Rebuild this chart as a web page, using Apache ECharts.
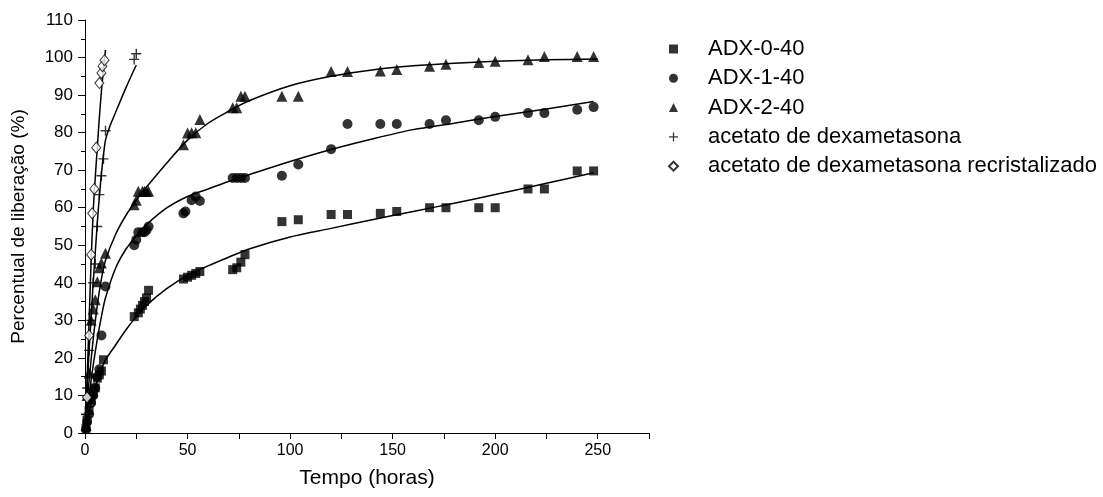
<!DOCTYPE html>
<html>
<head>
<meta charset="utf-8">
<script src="https://cdn.jsdelivr.net/npm/echarts@6/dist/echarts.min.js"></script>
<style>html,body{margin:0;padding:0;background:#fff}#c{width:1103px;height:497px}</style>
</head>
<body>
<div id="c"></div>
<script>
// ---- data ----
const xTicks = [0, 50, 100, 150, 200, 250];
const seriesNames = ['ADX-0-40', 'ADX-1-40', 'ADX-2-40', 'acetato de dexametasona', 'acetato de dexametasona recristalizado'];

const adx0T = [0.5, 1, 2, 3, 4, 5, 6, 7, 8, 9, 24, 26, 27, 28, 29, 30, 31, 48, 50, 52, 54, 56, 72, 74, 76, 78, 96, 104, 120, 128, 144, 152, 168, 176, 192, 200, 216, 224, 240, 248];
const adx0V = [1.3, 3.5, 6, 8.8, 10.5, 12, 14.6, 15.5, 16.5, 19.5, 31, 32, 33, 34, 35, 36, 38, 41, 41.5, 42, 42.5, 43, 43.5, 44, 45.5, 47.5, 56.3, 56.8, 58.2, 58.2, 58.5, 59, 60, 60, 60, 60, 65, 65, 69.8, 69.8];

const adx1T = [0.5, 1, 2, 3, 4, 5, 6, 7, 8, 10, 24, 25, 26, 28, 29, 30, 31, 48, 49, 52, 54, 56, 72, 74, 76, 78, 96, 104, 120, 128, 144, 152, 168, 176, 192, 200, 216, 224, 240, 248];
const adx1V = [1, 3, 5, 8, 10, 12, 15, 17, 26, 39, 50, 51.5, 53.5, 53.5, 53.5, 54, 55, 58.5, 59, 62, 63, 61.8, 67.9, 67.9, 67.9, 67.9, 68.5, 71.5, 75.6, 82.3, 82.3, 82.3, 82.3, 83.3, 83.3, 84.2, 85.2, 85.2, 86.1, 86.8];

const adx2T = [0.5, 1, 2, 3, 4, 5, 6, 7, 8, 10, 24, 25, 26, 28, 29, 30, 31, 48, 50, 52, 54, 56, 72, 74, 76, 78, 96, 104, 120, 128, 144, 152, 168, 176, 192, 200, 216, 224, 240, 248];
const adx2V = [2, 10, 16, 30, 33, 35.5, 40.3, 44, 45.3, 47.9, 60.8, 62, 64.4, 64.4, 64.4, 64.4, 64.4, 76.8, 79.9, 80, 80, 83.5, 86.6, 86.6, 89.7, 89.7, 89.7, 89.7, 96.3, 96.3, 96.4, 96.8, 97.7, 98.2, 98.7, 99, 99.4, 100.3, 100.3, 100.3];

const acetT = [0.5, 1, 2, 3, 4, 5, 6, 7, 8, 9, 10, 24, 25];
const acetV = [5, 12, 22, 30, 40, 45, 55, 63.5, 68.5, 73, 80.5, 99.5, 101];

const recrT = [1, 2, 3, 3.5, 4.5, 5.5, 7, 8, 8.5, 9.5];
const recrV = [9.5, 26, 47.5, 58.5, 65, 76, 93.2, 95.9, 97.7, 99.3];

// fitted curves
const fit0T = [0, 1, 2, 4, 6, 8, 10, 15, 20, 25, 30, 40, 50, 60, 70, 80, 100, 120, 140, 160, 180, 200, 225, 248];
const fit0V = [0, 3, 6, 10, 14, 17, 19.5, 23.5, 27.5, 31, 34, 38.5, 42, 44.5, 46.8, 49, 52.2, 54.5, 56.8, 59, 61.2, 63.5, 66.5, 69.3];

const fit1T = [0, 2, 4, 6, 8, 10, 15, 20, 25, 30, 40, 50, 60, 70, 80, 100, 120, 140, 160, 180, 200, 225, 248];
const fit1V = [0, 10, 18, 25, 31, 36, 44, 49, 52.5, 55.5, 60, 63, 65, 67, 68.8, 72.3, 75.5, 78.3, 80.8, 82.5, 84.3, 86.3, 88.3];

const fit2T = [0, 1, 2, 4, 6, 8, 10, 15, 20, 25, 30, 40, 50, 60, 70, 80, 100, 120, 140, 160, 180, 200, 225, 250];
const fit2V = [0, 8, 14, 25, 34, 41, 46, 53, 58, 62, 65.5, 72, 78, 82.5, 85.7, 88.5, 92.5, 95, 96.7, 97.8, 98.5, 99, 99.4, 99.6];

const fitAT = [0, 1, 2, 3, 4, 5, 6, 7, 8, 9, 10, 12, 15, 20, 25];
const fitAV = [0, 12, 22, 31, 40, 48, 56, 63, 69, 74, 78, 81.5, 85.5, 92, 98];

const fitRT = [0, 1, 2, 3, 4, 5, 6, 7, 8, 9, 10];
const fitRV = [0, 14, 30, 46, 59, 68, 76, 84, 91, 97, 102];

// ---- build ----
const pairs = (t, v) => t.map((x, i) => [x, v[i]]);
const FONT = 'Liberation Sans, Arial, Helvetica, sans-serif';
const plusPath = 'path://M4.3,0H5.7V4.3H10V5.7H5.7V10H4.3V5.7H0V4.3H4.3Z';

function scatter(name, t, v, symbol, size, style) {
  return {
    name, type: 'scatter', data: pairs(t, v), symbol, symbolSize: size,
    itemStyle: style || { color: '#000' }, z: 3, silent: true
  };
}
function fit(t, v) {
  return {
    type: 'line', data: pairs(t, v), smooth: 0.3, showSymbol: false, symbol: 'none',
    lineStyle: { color: '#000', width: 1.5 }, z: 2, silent: true
  };
}

const chart = echarts.init(document.getElementById('c'), null, { renderer: 'canvas' });
chart.setOption({
  animation: false,
  backgroundColor: '#fff',
  textStyle: { fontFamily: FONT },
  grid: { left: 85, top: 20, right: 454, bottom: 64, containLabel: false },
  legend: {
    orient: 'vertical', left: 663, top: 33, itemWidth: 9, itemHeight: 9, itemGap: 7.3,
    data: seriesNames,
    textStyle: { fontFamily: FONT, fontSize: 22, color: '#000', lineHeight: 22, padding: [0, 0, 0, 25] },
    selectedMode: false
  },
  xAxis: {
    type: 'value', min: 0, max: 275, interval: 25,
    name: 'Tempo (horas)', nameLocation: 'middle', nameGap: 35,
    nameTextStyle: { fontFamily: FONT, fontSize: 21, color: '#000' },
    axisLine: { lineStyle: { color: '#000', width: 1 } },
    axisTick: { show: true, inside: false, length: 6, lineStyle: { color: '#000' } },
    axisLabel: {
      color: '#000', fontFamily: FONT, fontSize: 16, margin: 10,
      formatter: v => (xTicks.indexOf(v) >= 0 ? String(v) : '')
    },
    splitLine: { show: false }
  },
  yAxis: {
    type: 'value', min: 0, max: 110, interval: 10,
    name: 'Percentual de liberação (%)', nameLocation: 'middle', nameGap: 57, nameRotate: 90,
    nameTextStyle: { fontFamily: FONT, fontSize: 19, color: '#000' },
    axisLine: { show: true, lineStyle: { color: '#000', width: 1 } },
    axisTick: { show: true, inside: false, length: 7, lineStyle: { color: '#000' } },
    minorTick: { show: true, splitNumber: 2, length: 4, lineStyle: { color: '#000' } },
    axisLabel: { color: '#000', fontFamily: FONT, fontSize: 17, margin: 12 },
    splitLine: { show: false }
  },
  series: [
    fit(fit0T, fit0V), fit(fit1T, fit1V), fit(fit2T, fit2V), fit(fitAT, fitAV), fit(fitRT, fitRV),
    scatter(seriesNames[0], adx0T, adx0V, 'rect', 9),
    scatter(seriesNames[1], adx1T, adx1V, 'circle', 10),
    scatter(seriesNames[2], adx2T, adx2V, 'triangle', 11),
    scatter(seriesNames[3], acetT, acetV, plusPath, 10),
    scatter(seriesNames[4], recrT, recrV, 'diamond', [9, 11], { color: '#fff', borderColor: '#000', borderWidth: 1 })
  ]
});
</script>
</body>
</html>
